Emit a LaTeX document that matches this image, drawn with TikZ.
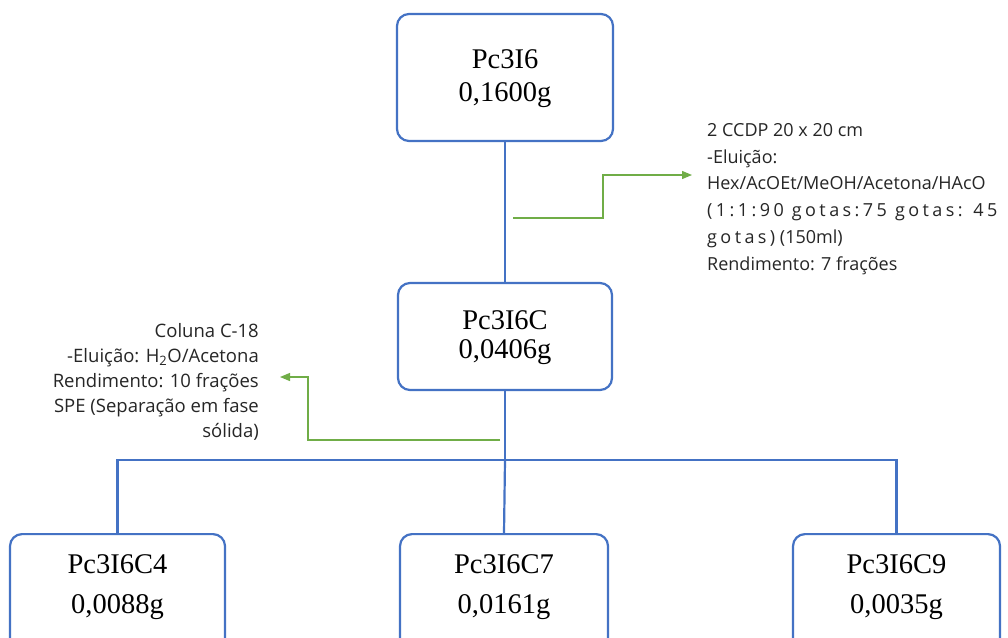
\documentclass[tikz,border=0pt]{standalone}
\usepackage{fontspec}
\setmainfont{Liberation Serif}
\newfontfamily\notefont{Open Sans}
\usetikzlibrary{arrows.meta}
\definecolor{boxblue}{HTML}{4472C4}
\definecolor{arrgreen}{HTML}{70AD47}
\tikzset{
  sample/.style={draw=boxblue, line width=2.2pt, rounded corners=12pt, fill=white, inner sep=0pt},
  sampletext/.style={align=center, inner sep=0pt},
  link/.style={draw=boxblue, line width=2.2pt},
  garrow/.style={draw=arrgreen, line width=1.2pt, -{Triangle[length=10pt,width=8pt]}},
  note/.style={inner sep=0pt, font=\notefont\fontsize{18.5}{25}\selectfont, text=black!85},
  bignote/.style={inner sep=0pt, font=\notefont\fontsize{18}{26.8}\selectfont, text=black!85}
}
\begin{document}
\begin{tikzpicture}[x=1pt,y=-1pt]
\clip (0,0) rectangle (1008,637);
\fill[white] (0,0) rectangle (1008,637);
\node[sample, minimum width=216pt, minimum height=127pt] (top) at (505,77.5) {};
\node[sampletext, font=\fontsize{28.5}{33}\selectfont] (topt) at (505,78.5) {Pc3I6\\0,1600g};
\node[sample, minimum width=214pt, minimum height=107pt] (mid) at (505,336.5) {};
\node[sampletext, font=\fontsize{28.5}{29}\selectfont] (midt) at (505,337.5) {Pc3I6C\\0,0406g};
\node[sample, anchor=north, minimum width=215pt, minimum height=150pt] (b1) at (117.5,533) {};
\node[sample, anchor=north, minimum width=208pt, minimum height=150pt] (b2) at (504,533) {};
\node[sample, anchor=north, minimum width=207pt, minimum height=150pt] (b3) at (896.5,533) {};
\node[sampletext, font=\fontsize{28.5}{40}\selectfont] (b1t) at (117.5,587) {Pc3I6C4\\0,0088g};
\node[sampletext, font=\fontsize{28.5}{40}\selectfont] (b2t) at (504,587) {Pc3I6C7\\0,0161g};
\node[sampletext, font=\fontsize{28.5}{40}\selectfont] (b3t) at (896.5,587) {Pc3I6C9\\0,0035g};
\coordinate (j) at (505,460);
\draw[link] (top.south) -- (mid.north);
\draw[link] (mid.south) -- (j);
\draw[link] (b1.north) |- (j) -| (b3.north);
\draw[link] (j) -- (b2.north);
% right note
\node[bignote, anchor=north west, align=left] (n1) at (707,123) {2 CCDP 20 x 20 cm\\-Eluição:\\Hex/AcOEt/MeOH/Acetona/HAcO\\{\addfontfeature{LetterSpace=19}(1:1:90 gotas:75 gotas: 45}\\{\addfontfeature{LetterSpace=19}gotas)} (150ml)\\Rendimento: 7 frações};
\coordinate (g1s) at (513,218);
\coordinate (g1e) at (692,175);
\draw[garrow] (g1s) -- (603,218) |- (g1e);
% left note
\node[note, anchor=north east, align=right] (n2) at (259,323) {Coluna C-18\\-Eluição: H\textsubscript{2}O/Acetona\\Rendimento: 10 frações\\SPE (Separação em fase\\sólida)};
\coordinate (g2s) at (500,440);
\coordinate (g2e) at (280,377);
\draw[garrow] (g2s) -- (308,440) |- (g2e);
\end{tikzpicture}
\end{document}
